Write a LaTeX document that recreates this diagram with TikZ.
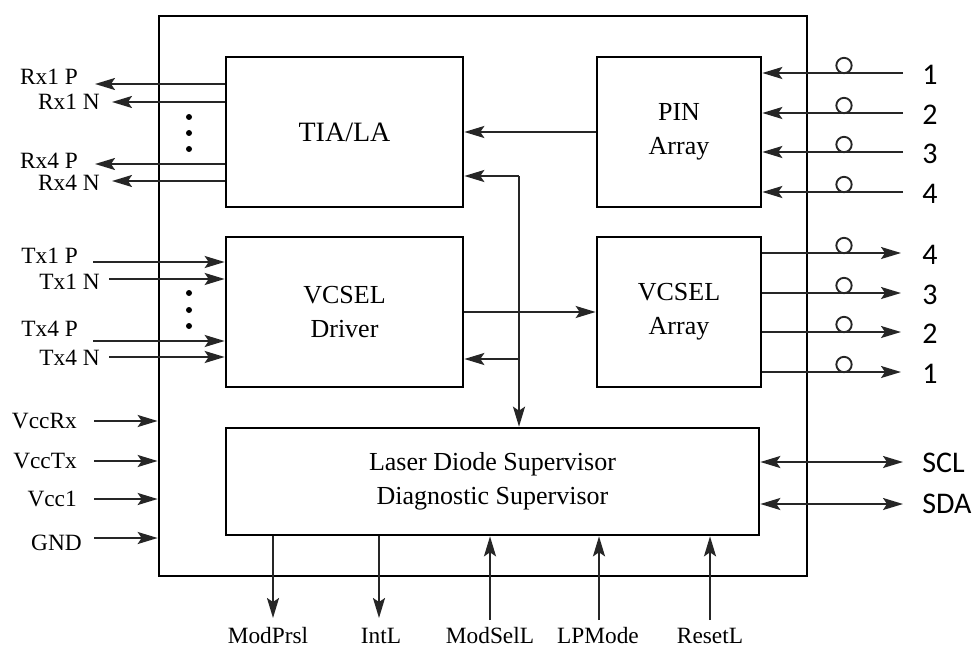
\documentclass[tikz,border=0pt]{standalone}
\usepackage{fontspec}
\setmainfont{Liberation Serif}
\newfontfamily\calib{Carlito}
\usetikzlibrary{arrows.meta}
\definecolor{ln}{HTML}{262626}
\begin{document}
\begin{tikzpicture}[x=0.75pt,y=-0.75pt,
  box/.style={draw=black,line width=2pt,inner sep=0pt,align=center,font=\fontsize{19.5}{25.5}\selectfont},
  conn/.style={draw=ln,line width=1.5pt},
  arr/.style={conn,-{Stealth[length=15pt,width=9pt,inset=3pt]}},
  darr/.style={conn,{Stealth[length=15pt,width=9pt,inset=3pt]}-{Stealth[length=15pt,width=9pt,inset=3pt]}},
  lbl/.style={inner sep=0pt,font=\fontsize{17.5}{20}\selectfont},
  slbl/.style={inner sep=0pt,anchor=west,font=\calib\fontsize{22.5}{26}\selectfont},
  fib/.style={draw=ln,line width=1.4pt,circle,minimum size=11.5pt,inner sep=0pt},
  dotm/.style={fill=black,circle,minimum size=4.5pt,inner sep=0pt}]
\useasboundingbox (0,0) rectangle (973,649);
% boxes
\node[box,minimum width=486pt,minimum height=420pt] (outer) at (483,296) {};
\node[box,minimum width=177.75pt,minimum height=112.5pt,font=\fontsize{21}{25.5}\selectfont] (tia) at (344.5,132) {TIA/LA};
\node[box,minimum width=123pt,minimum height=112.5pt] (pin) at (679,132) {PIN\\Array};
\node[box,minimum width=177.75pt,minimum height=112.5pt] (drv) at (344.5,312) {VCSEL\\Driver};
\node[box,minimum width=123pt,minimum height=112.5pt] (varr) at (679,312) {VCSEL\\Array};
\node[box,minimum width=399.75pt,minimum height=80.25pt] (sup) at (492.5,481.5) {Laser Diode Supervisor\\Diagnostic Supervisor};
% internal connectors
\draw[arr] (pin.west) -- (tia.east);
\draw[arr] (drv.east) -- (varr.west);
\coordinate (bus) at (519,176);
\coordinate (bus2) at (519,359);
\draw[arr] (bus) -- (tia.east |- bus);
\draw[arr] (bus) -- (bus |- sup.north);
\draw[arr] (bus2) -- (drv.east |- bus2);
% Rx outputs
\coordinate (rx1p) at (95,84);
\coordinate (rx1n) at (112,102);
\coordinate (rx4p) at (95,164);
\coordinate (rx4n) at (112,181);
\foreach \c in {rx1p,rx1n,rx4p,rx4n} \draw[arr] (tia.west |- \c) -- (\c);
\node[lbl,anchor=east] (lrx1p) at (78,77) {Rx1 P};
\node[lbl,anchor=east] (lrx1n) at (100,102) {Rx1 N};
\node[lbl,anchor=east] (lrx4p) at (78,161) {Rx4 P};
\node[lbl,anchor=east] (lrx4n) at (100,183) {Rx4 N};
\node[dotm] (d1) at (189,117) {};
\node[dotm] (d2) at (189,133) {};
\node[dotm] (d3) at (189,149) {};
% Tx inputs
\coordinate (tx1p) at (93,262);
\coordinate (tx1n) at (109,279);
\coordinate (tx4p) at (93,341);
\coordinate (tx4n) at (109,357);
\foreach \c in {tx1p,tx1n,tx4p,tx4n} \draw[arr] (\c) -- (drv.west |- \c);
\node[lbl,anchor=east] (ltx1p) at (78,256) {Tx1 P};
\node[lbl,anchor=east] (ltx1n) at (100,282) {Tx1 N};
\node[lbl,anchor=east] (ltx4p) at (78,329) {Tx4 P};
\node[lbl,anchor=east] (ltx4n) at (100,358) {Tx4 N};
\node[dotm] (d4) at (189,293) {};
\node[dotm] (d5) at (189,310) {};
\node[dotm] (d6) at (189,326) {};
% power
\coordinate (vrx) at (94,421);
\coordinate (vtx) at (94,461);
\coordinate (vc1) at (94,499);
\coordinate (gnd) at (94,538);
\foreach \c in {vrx,vtx,vc1,gnd} \draw[arr] (\c) -- (outer.west |- \c);
\node[lbl,anchor=east] (lvrx) at (77,421) {VccRx};
\node[lbl,anchor=east] (lvtx) at (77,461) {VccTx};
\node[lbl,anchor=east] (lvc1) at (77,499) {Vcc1};
\node[lbl,anchor=east] (lgnd) at (82,543) {GND};
% optical inputs
\foreach \y/\t [count=\i] in {73/1,113/2,152/3,192/4}{
  \coordinate (oin\i) at (903,\y);
  \draw[arr] (oin\i) -- (pin.east |- oin\i);
  \node[fib] (cin\i) at (844,\y-7.5) {};
  \node[slbl] (lin\i) at (922,\y+2) {\t};
}
% optical outputs
\foreach \y/\t [count=\i] in {253/4,293/3,332/2,372/1}{
  \coordinate (oout\i) at (901,\y);
  \draw[arr] (varr.east |- oout\i) -- (oout\i);
  \node[fib] (cout\i) at (844,\y-7.5) {};
  \node[slbl] (lout\i) at (922,\y+2) {\t};
}
% I2C
\coordinate (scl) at (903,462);
\coordinate (sda) at (903,504);
\draw[darr] (sup.east |- scl) -- (scl);
\draw[darr] (sup.east |- sda) -- (sda);
\node[slbl] (lscl) at (922,463) {SCL};
\node[slbl] (lsda) at (922,504) {SDA};
% bottom signals
\coordinate (bmp) at (273,618);
\coordinate (bint) at (379,618);
\coordinate (bms) at (490,620);
\coordinate (blp) at (599,620);
\coordinate (brs) at (710,620);
\draw[arr] (sup.south -| bmp) -- (bmp);
\draw[arr] (sup.south -| bint) -- (bint);
\draw[arr] (bms) -- (sup.south -| bms);
\draw[arr] (blp) -- (sup.south -| blp);
\draw[arr] (brs) -- (sup.south -| brs);
\node[lbl,anchor=base] (lmp) at (268,643) {ModPrsl};
\node[lbl,anchor=base] (lint) at (381,643) {IntL};
\node[lbl,anchor=base] (lms) at (490,643) {ModSelL};
\node[lbl,anchor=base] (llp) at (598,643) {LPMode};
\node[lbl,anchor=base] (lrs) at (710,643) {ResetL};
\end{tikzpicture}
\end{document}
